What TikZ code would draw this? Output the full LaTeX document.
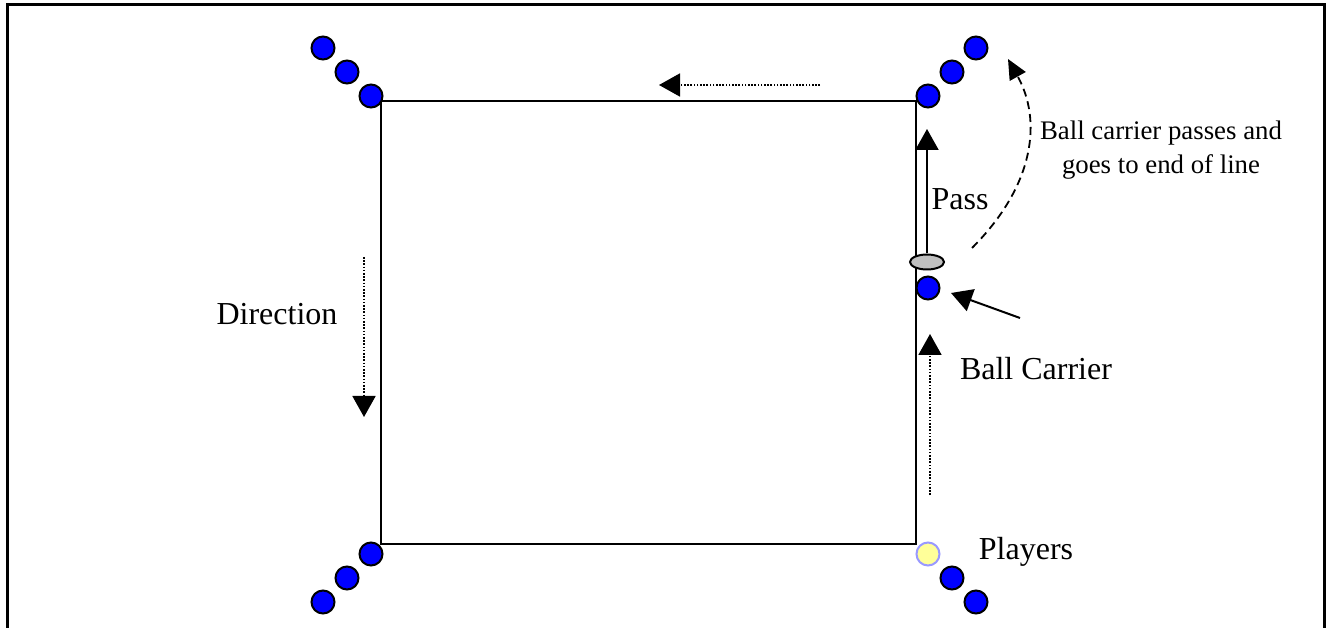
\documentclass[tikz,border=0pt]{standalone}
\usepackage{fontspec}
\setmainfont{Liberation Serif}
\usetikzlibrary{arrows.meta,shapes.geometric}
\definecolor{ballgray}{RGB}{192,192,192}
\definecolor{pyellow}{RGB}{255,255,153}
\definecolor{pblue}{RGB}{153,153,255}
\tikzset{
  player/.style={circle, draw=black, fill=blue, line width=2pt, minimum size=23pt, inner sep=0pt},
  newplayer/.style={circle, draw=pblue, fill=pyellow, line width=2pt, minimum size=23pt, inner sep=0pt},
  bigtip/.style={-{Triangle[width=23pt,length=21pt]}},
  dotline/.style={line width=1.8pt, dash pattern=on 1.6pt off 1.6pt},
  lbl/.style={font=\fontsize{32}{38}\selectfont, inner sep=0pt},
  note/.style={font=\fontsize{26.8}{34}\selectfont, inner sep=0pt, align=center}
}
\begin{document}
\begin{tikzpicture}[x=1pt,y=-1pt]
\useasboundingbox (0,0) rectangle (1326,628);
% frame
\draw[line width=3pt] (7.5,628) -- (7.5,4.5) -- (1324.5,4.5) -- (1324.5,628);
% field
\node[draw, line width=2pt, minimum width=535pt, minimum height=443pt, inner sep=0pt] (field) at (648.5,322.5) {};
% players top-left
\node[player] (tl1) at (323,48) {};
\node[player] (tl2) at (347,72) {};
\node[player] (tl3) at (371,96) {};
% top-right
\node[player] (tr1) at (928,96) {};
\node[player] (tr2) at (952,72) {};
\node[player] (tr3) at (976,48) {};
% bottom-left
\node[player] (bl1) at (371,554) {};
\node[player] (bl2) at (347,578) {};
\node[player] (bl3) at (323,602) {};
% bottom-right
\node[newplayer] (br1) at (928,554) {};
\node[player] (br2) at (952,578) {};
\node[player] (br3) at (976,602) {};
% ball and carrier
\node[player] (bc) at (928,288) {};
\node[ellipse, draw=black, fill=ballgray, line width=2pt, minimum width=34pt, minimum height=15pt, inner sep=0pt] (ball) at (927,262) {};
% coordinates
\coordinate (passtip) at (927,129);
\coordinate (topfrom) at (820,85);
\coordinate (topto) at (659,85);
\coordinate (dirfrom) at (364,257);
\coordinate (dirto) at (364,417);
\coordinate (runfrom) at (930,495);
\coordinate (runto) at (930,334);
\coordinate (bcfrom) at (1020,318);
\coordinate (bcto) at (951,293);
\coordinate (cfrom) at (972,248);
\coordinate (cto) at (1008,59);
% arrows
\draw[bigtip, line width=2pt] (ball.north) -- (passtip);
\draw[dotline, bigtip] (topfrom) -- (topto);
\draw[dotline, bigtip] (dirfrom) -- (dirto);
\draw[dotline, bigtip] (runfrom) -- (runto);
\draw[line width=2pt, bigtip] (bcfrom) -- (bcto);
\draw[line width=1.8pt, dash pattern=on 8pt off 5pt, -{Triangle[width=18pt,length=20pt]}] (cfrom) .. controls (1035,185) and (1042,120) .. (cto);
% labels
\node[lbl] (pass) at (960,199) {Pass};
\node[lbl] (direction) at (277,314) {Direction};
\node[lbl] (carrier) at (1036,369) {Ball Carrier};
\node[lbl] (players) at (1026,552) {Players};
\node[note] (passes) at (1161,150) {Ball carrier passes and\\goes to end of line};
\end{tikzpicture}
\end{document}
